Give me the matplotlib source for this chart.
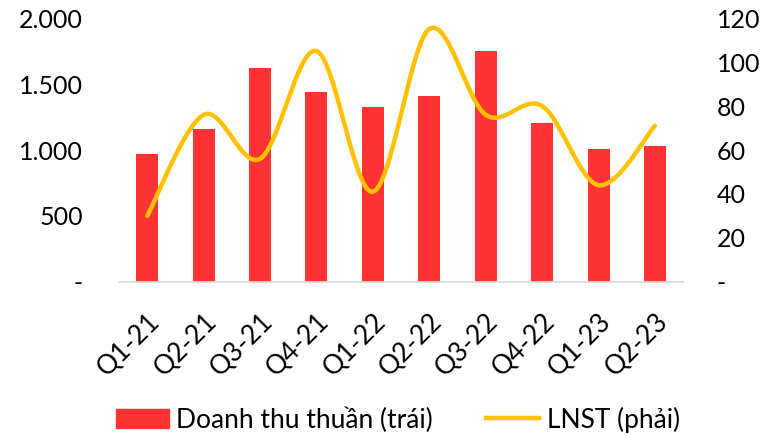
import numpy as np
import matplotlib
matplotlib.use('Agg')
import matplotlib.pyplot as plt
from matplotlib.ticker import FuncFormatter, MultipleLocator
from matplotlib.patches import Patch
from matplotlib.lines import Line2D

plt.rcParams['font.family'] = ['Lato', 'DejaVu Sans']

quarters = ['Q1-21', 'Q2-21', 'Q3-21', 'Q4-21', 'Q1-22',
            'Q2-22', 'Q3-22', 'Q4-22', 'Q1-23', 'Q2-23']
revenue = [970, 1160, 1620, 1440, 1325, 1410, 1750, 1205, 1008, 1030]
profit = [30, 76, 56, 105, 41, 115, 76, 80, 44, 71]

BAR_RED = '#FF3333'
LINE_GOLD = '#FFC000'


def smooth_curve(y, steps=40):
    # cubic bezier through every point, control points like a spreadsheet "smoothed line"
    y = np.asarray(y, dtype=float)
    x = np.arange(len(y), dtype=float)
    pts = np.column_stack([x, y])
    out = []
    t = np.linspace(0, 1, steps)
    for i in range(len(pts) - 1):
        p0 = pts[i]
        p3 = pts[i + 1]
        prev = pts[i - 1] if i > 0 else pts[i]
        nxt = pts[i + 2] if i + 2 < len(pts) else pts[i + 1]
        p1 = p0 + (p3 - prev) / 6.0
        p2 = p3 - (nxt - p0) / 6.0
        seg = ((1 - t)[:, None] ** 3 * p0 + 3 * ((1 - t) ** 2 * t)[:, None] * p1
               + 3 * ((1 - t) * t ** 2)[:, None] * p2 + (t ** 3)[:, None] * p3)
        out.append(seg if i == 0 else seg[1:])
    seg = np.vstack(out)
    return seg[:, 0], seg[:, 1]


def thousands(v, pos):
    if v == 0:
        return '-'
    return '{:,.0f}'.format(v).replace(',', '.')


def plain(v, pos):
    if v == 0:
        return '-'
    return '{:.0f}'.format(v)


fig = plt.figure(figsize=(7.65, 4.37), dpi=100)
ax = fig.add_axes([0.1556, 0.3547, 0.7374, 0.6041])
ax2 = ax.twinx()

x = np.arange(len(quarters))
ax.bar(x, revenue, width=0.39, color=BAR_RED, zorder=2)
ax.set_ylim(0, 2000)
ax.set_xlim(-0.5, len(quarters) - 0.5)
ax.yaxis.set_major_locator(MultipleLocator(500))
ax.yaxis.set_major_formatter(FuncFormatter(thousands))

xs, ys = smooth_curve(profit)
ax2.plot(xs, ys, color=LINE_GOLD, lw=3.2, solid_capstyle='round', zorder=3)
ax2.set_ylim(0, 120)
ax2.yaxis.set_major_locator(MultipleLocator(20))
ax2.yaxis.set_major_formatter(FuncFormatter(plain))

for a in (ax, ax2):
    for s in a.spines.values():
        s.set_visible(False)
    a.tick_params(length=0, labelsize=18)
ax.spines['bottom'].set_visible(True)
ax.spines['bottom'].set_color('#D9D9D9')
ax.spines['bottom'].set_linewidth(1.2)

ax.tick_params(axis='y', pad=26)
ax2.tick_params(axis='y', pad=24)

ax.set_xticks(x)
ax.set_xticklabels(quarters, rotation=45, ha='right', rotation_mode='anchor')
ax.tick_params(axis='x', pad=19, labelsize=19)

handles = [Patch(color=BAR_RED, label='Doanh thu thuần (trái)'),
           Line2D([0], [0], color=LINE_GOLD, lw=3.2, label='LNST (phải)')]
fig.legend(handles=handles, loc='center', bbox_to_anchor=(0.52, 0.04),
           ncol=2, frameon=False, fontsize=19, handlelength=2.0,
           handleheight=0.7, handletextpad=0.3, columnspacing=2.0)

fig.savefig('out.png', dpi=100)
